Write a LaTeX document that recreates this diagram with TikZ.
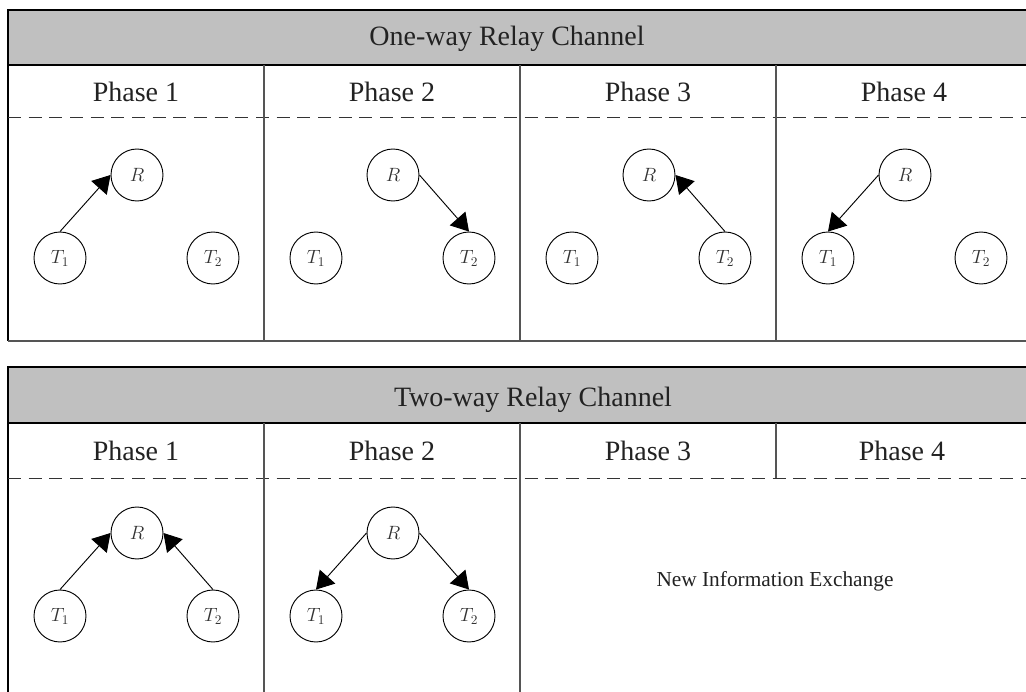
\documentclass[tikz,border=0pt]{standalone}
\usepackage[no-math]{fontspec}
\setmainfont{Liberation Serif}
\usetikzlibrary{arrows.meta}
\definecolor{hdrgray}{HTML}{C0C0C0}
\definecolor{txt}{HTML}{222222}
\definecolor{divgray}{HTML}{555555}
\begin{document}
\begin{tikzpicture}[x=0.75pt,y=-0.75pt,
  agent/.style={circle,draw=black,line width=0.7pt,minimum size=39pt,inner sep=0pt,
    text=black!80,font=\fontsize{14}{14}\selectfont},
  titletext/.style={anchor=base,text=txt,font=\fontsize{21}{21}\selectfont},
  phasetext/.style={anchor=base,text=txt,font=\fontsize{21}{21}\selectfont},
  smalltext/.style={anchor=base,text=txt,font=\fontsize{16}{16}\selectfont},
  outline/.style={draw=black,line width=0.8pt},
  hdrline/.style={draw=black,line width=1.3pt},
  divider/.style={draw=divgray,line width=0.8pt},
  bottomline/.style={draw=divgray,line width=1.4pt},
  sepline/.style={draw=black!80,line width=0.75pt,dash pattern=on 9.8pt off 5.7pt},
  link/.style={draw=black,line width=0.7pt,-{Triangle[length=13pt,width=15.5pt]}}]
\useasboundingbox (0,0) rectangle (1026,692);
\clip (0,0) rectangle (1026,692);

% ---------------- top panel: one-way ----------------
\fill[hdrgray] (8,10) rectangle (1040,65);
\path[outline] (1040,10) -- (8,10) -- (8,341);
\path[hdrline] (8,65) -- (1040,65);
\path[sepline] (8,118) -- (1040,118);
\foreach \xx in {264,520,776} \path[divider] (\xx,65) -- (\xx,341);
\path[bottomline] (8,341) -- (1040,341);
\node[titletext] (ttop) at (507,46) {One-way Relay Channel};
\node[phasetext] (pa1) at (136,102) {Phase 1};
\node[phasetext] (pa2) at (392,102) {Phase 2};
\node[phasetext] (pa3) at (648,102) {Phase 3};
\node[phasetext] (pa4) at (904,102) {Phase 4};

\foreach \i/\cx in {1/8,2/264,3/520,4/776}{
  \node[agent] (aR\i)  at (\cx+129,175) {$R$};
  \node[agent] (aTa\i) at (\cx+52,258) {$T_1$};
  \node[agent] (aTb\i) at (\cx+205,258) {$T_2$};
}
\draw[link] (aTa1.north) -- (aR1.west);
\draw[link] (aR2.east) -- (aTb2.north);
\draw[link] (aTb3.north) -- (aR3.east);
\draw[link] (aR4.west) -- (aTa4.north);

% ---------------- bottom panel: two-way ----------------
\fill[hdrgray] (8,367) rectangle (1040,423);
\path[outline] (1040,367) -- (8,367) -- (8,700);
\path[hdrline] (8,423) -- (1040,423);
\path[sepline] (8,478) -- (1040,478);
\foreach \xx in {264,520} \path[divider] (\xx,423) -- (\xx,700);
\path[divider] (776,423) -- (776,478);
\node[titletext] (tbot) at (533,406) {Two-way Relay Channel};
\node[phasetext] (pb1) at (136,460) {Phase 1};
\node[phasetext] (pb2) at (392,460) {Phase 2};
\node[phasetext] (pb3) at (648,460) {Phase 3};
\node[phasetext] (pb4) at (902,460) {Phase 4};
\node[smalltext] (nie) at (775,586) {New Information Exchange};

\foreach \i/\cx in {1/8,2/264}{
  \node[agent] (bR\i)  at (\cx+129,533) {$R$};
  \node[agent] (bTa\i) at (\cx+52,616) {$T_1$};
  \node[agent] (bTb\i) at (\cx+205,616) {$T_2$};
}
\draw[link] (bTa1.north) -- (bR1.west);
\draw[link] (bTb1.north) -- (bR1.east);
\draw[link] (bR2.west) -- (bTa2.north);
\draw[link] (bR2.east) -- (bTb2.north);
\end{tikzpicture}
\end{document}
